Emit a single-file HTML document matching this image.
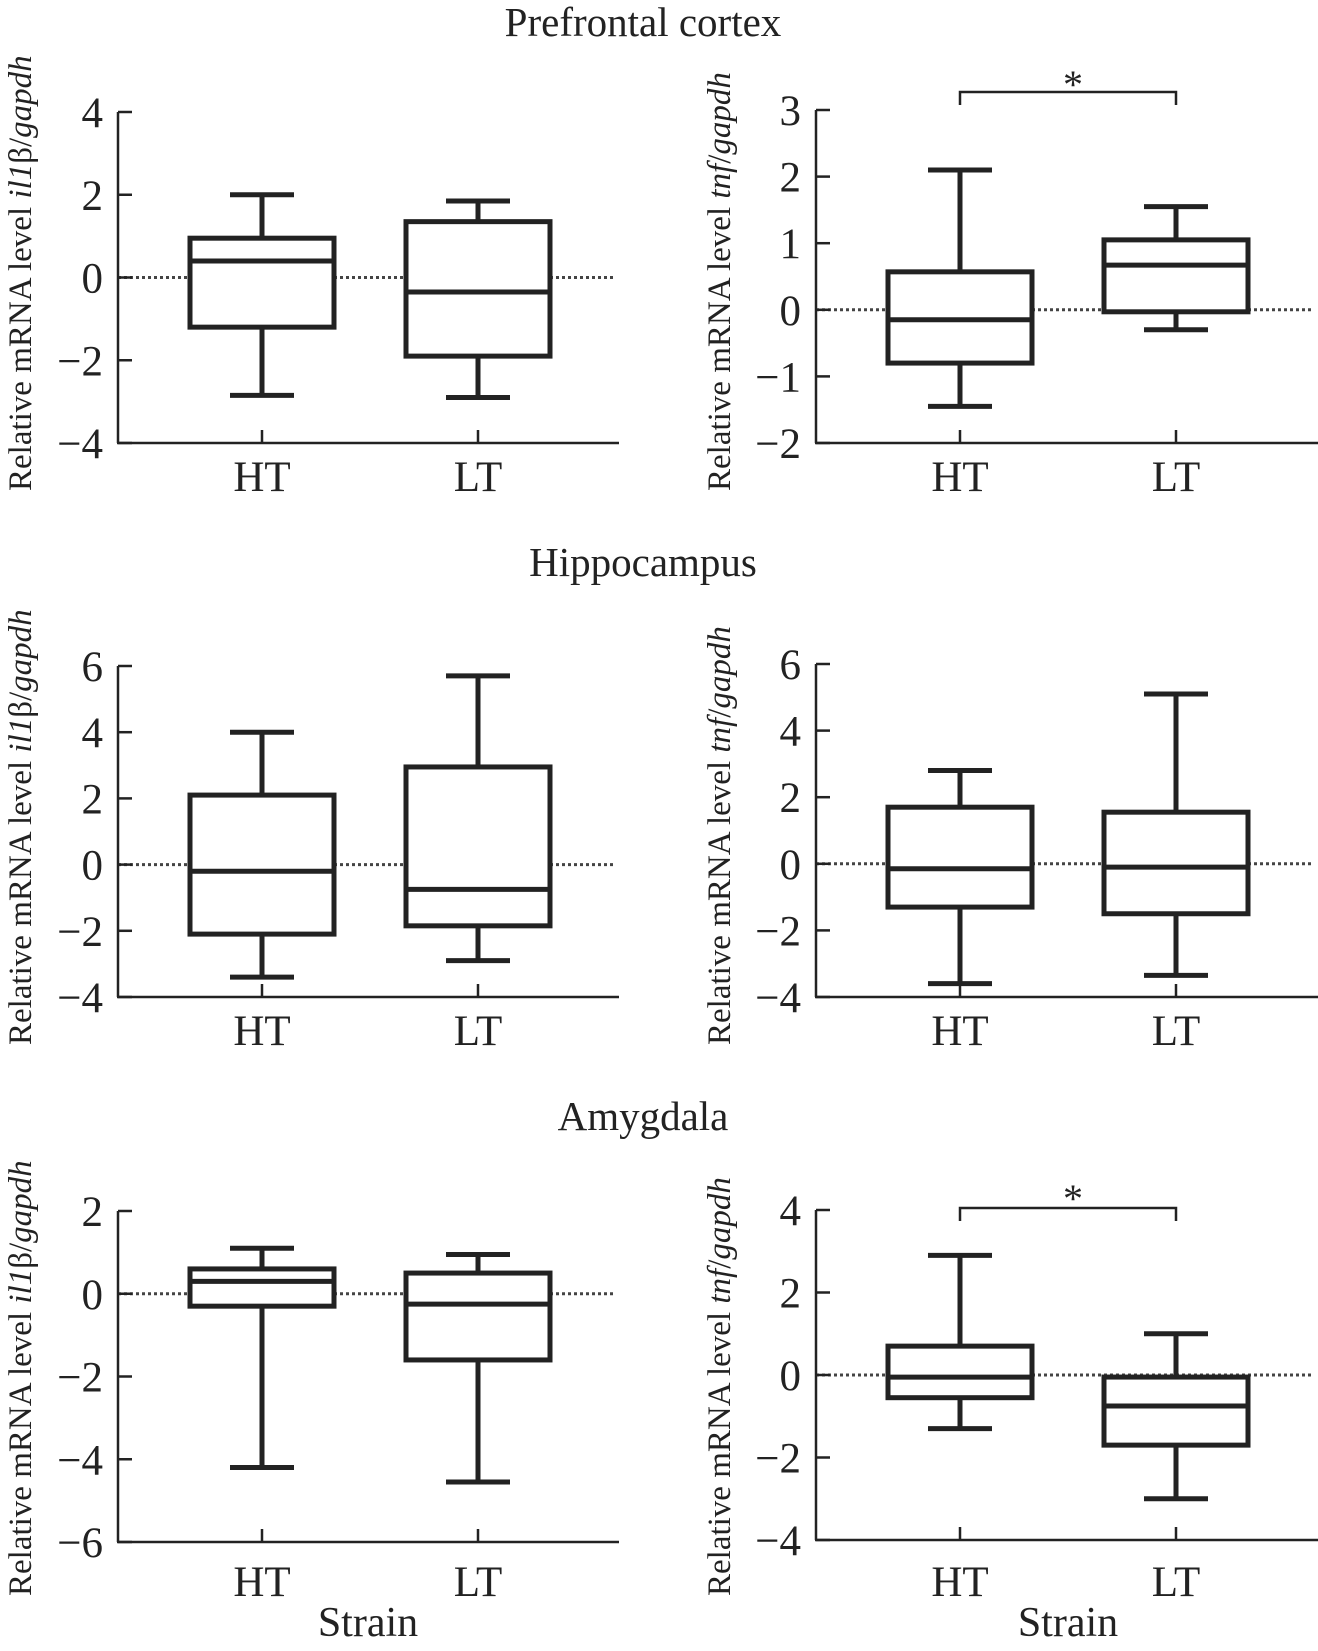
<!DOCTYPE html>
<html><head><meta charset="utf-8"><style>
html,body{margin:0;padding:0;background:#fff;}
svg{display:block;font-family:"Liberation Serif",serif;}
</style></head><body>
<svg id="fig" width="1318" height="1651" viewBox="0 0 1318 1651" xmlns="http://www.w3.org/2000/svg">
<text x="643" y="36" font-size="41" text-anchor="middle" fill="#222">Prefrontal cortex</text>
<text x="643" y="576" font-size="41" text-anchor="middle" fill="#222">Hippocampus</text>
<text x="643" y="1130" font-size="41" text-anchor="middle" fill="#222">Amygdala</text>
<text x="368" y="1636" font-size="42" text-anchor="middle" fill="#222">Strain</text>
<text x="1068" y="1636" font-size="42" text-anchor="middle" fill="#222">Strain</text>
</svg>
<script>
const categories = ["HT", "LT"];
// [min, q1, median, q3, max]
const pfcIl1bHT = [-2.85, -1.2, 0.4, 0.95, 2.0];
const pfcIl1bLT = [-2.9, -1.9, -0.35, 1.35, 1.85];
const pfcTnfHT = [-1.45, -0.8, -0.15, 0.57, 2.1];
const pfcTnfLT = [-0.3, -0.03, 0.67, 1.05, 1.55];
const hipIl1bHT = [-3.4, -2.1, -0.2, 2.1, 4.0];
const hipIl1bLT = [-2.9, -1.85, -0.75, 2.95, 5.7];
const hipTnfHT = [-3.6, -1.3, -0.15, 1.7, 2.8];
const hipTnfLT = [-3.35, -1.5, -0.1, 1.55, 5.1];
const amyIl1bHT = [-4.2, -0.3, 0.3, 0.6, 1.1];
const amyIl1bLT = [-4.55, -1.6, -0.25, 0.5, 0.95];
const amyTnfHT = [-1.3, -0.55, -0.05, 0.7, 2.9];
const amyTnfLT = [-3.0, -1.7, -0.75, -0.05, 1.0];
const ticksPfcIl1b = [4, 2, 0, -2, -4];
const ticksPfcTnf = [3, 2, 1, 0, -1, -2];
const ticksHipIl1b = [6, 4, 2, 0, -2, -4];
const ticksHipTnf = [6, 4, 2, 0, -2, -4];
const ticksAmyIl1b = [2, 0, -2, -4, -6];
const ticksAmyTnf = [4, 2, 0, -2, -4];

const NS = "http://www.w3.org/2000/svg";
const svg = document.getElementById("fig");
function mk(tag, attrs, parent) {
  const e = document.createElementNS(NS, tag);
  for (const k in attrs) e.setAttribute(k, attrs[k]);
  (parent || svg).appendChild(e);
  return e;
}
const C = "#222";
const panels = [
  {id:"pfc-il1b", ax:118, end:619, top:112, bot:443, ticks:ticksPfcIl1b, data:[pfcIl1bHT,pfcIl1bLT], gene:"il1b", tx:31, lblY:491, sig:false},
  {id:"pfc-tnf", ax:816, end:1318, top:110, bot:443, ticks:ticksPfcTnf, data:[pfcTnfHT,pfcTnfLT], gene:"tnf", tx:730, lblY:491, sig:true, brY:92, brDrop:105, starY:80},
  {id:"hip-il1b", ax:118, end:619, top:666, bot:997, ticks:ticksHipIl1b, data:[hipIl1bHT,hipIl1bLT], gene:"il1b", tx:31, lblY:1045, sig:false},
  {id:"hip-tnf", ax:816, end:1318, top:664, bot:997, ticks:ticksHipTnf, data:[hipTnfHT,hipTnfLT], gene:"tnf", tx:730, lblY:1045, sig:false},
  {id:"amy-il1b", ax:118, end:619, top:1211, bot:1542, ticks:ticksAmyIl1b, data:[amyIl1bHT,amyIl1bLT], gene:"il1b", tx:31, lblY:1596, sig:false},
  {id:"amy-tnf", ax:816, end:1318, top:1210, bot:1540, ticks:ticksAmyTnf, data:[amyTnfHT,amyTnfLT], gene:"tnf", tx:730, lblY:1596, sig:true, brY:1208, brDrop:1221, starY:1194}
];
panels.forEach(p => {
  const g = mk("g", {});
  
  
  const tmax = p.ticks[0], tmin = p.ticks[p.ticks.length - 1];
  const y = v => p.top + (tmax - v) / (tmax - tmin) * (p.bot - p.top);
  const xs = [p.ax + 144, p.ax + 360];
  const zl = mk("line", {x1:p.ax, x2:p.end - 4, y1:y(0), y2:y(0), stroke:"#444", "stroke-width":3, "stroke-dasharray":"3 3"}, g);
  
  
  const ya = mk("line", {x1:p.ax, x2:p.ax, y1:p.top, y2:p.bot, stroke:C, "stroke-width":2.5}, g);
  
  
  const xa = mk("line", {x1:p.ax - 1, x2:p.end, y1:p.bot, y2:p.bot, stroke:C, "stroke-width":2.5}, g);
  
  
  p.ticks.forEach(t => {
    mk("line", {x1:p.ax, x2:p.ax + 14, y1:y(t), y2:y(t), stroke:C, "stroke-width":2.5}, g);
    const tl = mk("text", {x:p.ax - 15, y:y(t) + 15, "font-size":43, "text-anchor":"end", fill:C}, g);
    tl.textContent = (t < 0 ? "\u2212" + Math.abs(t) : String(t));
    
    
  });
  const yt = mk("text", {transform:`translate(${p.tx},${p.lblY}) rotate(-90)`, "font-size":33, fill:C}, g);
  
  
  if (p.gene === "il1b") {
    yt.innerHTML = 'Relative mRNA level <tspan font-style="italic">il1</tspan>β/<tspan font-style="italic">gapdh</tspan>';
  } else {
    yt.innerHTML = 'Relative mRNA level <tspan font-style="italic">tnf</tspan>/<tspan font-style="italic">gapdh</tspan>';
  }
  categories.forEach((c, i) => {
    const x = xs[i];
    const d = p.data[i];
    mk("line", {x1:x, x2:x, y1:p.bot, y2:p.bot - 13, stroke:C, "stroke-width":2.5}, g);
    const cl = mk("text", {x:x, y:p.lblY, "font-size":43, "text-anchor":"middle", fill:C}, g);
    cl.textContent = c;
    
    
    const bg = mk("g", {stroke:C, "stroke-width":5, fill:"#fff"}, g);
    
    
    mk("line", {x1:x, x2:x, y1:y(d[4]), y2:y(d[0])}, bg);
    mk("line", {x1:x - 32, x2:x + 32, y1:y(d[4]), y2:y(d[4])}, bg);
    mk("line", {x1:x - 32, x2:x + 32, y1:y(d[0]), y2:y(d[0])}, bg);
    mk("rect", {x:x - 72, y:y(d[3]), width:144, height:y(d[1]) - y(d[3])}, bg);
    mk("line", {x1:x - 72, x2:x + 72, y1:y(d[2]), y2:y(d[2])}, bg);
  });
  if (p.sig) {
    const br = mk("path", {d:`M${xs[0]},${p.brDrop} V${p.brY} H${xs[1]} V${p.brDrop}`, fill:"none", stroke:C, "stroke-width":2.5}, g);
    
    
    const st = mk("text", {x:(xs[0] + xs[1]) / 2 + 5, y:p.starY + 18, "font-size":40, "text-anchor":"middle", fill:C}, g);
    st.textContent = "*";
    
    
  }
});
</script>
</body></html>
